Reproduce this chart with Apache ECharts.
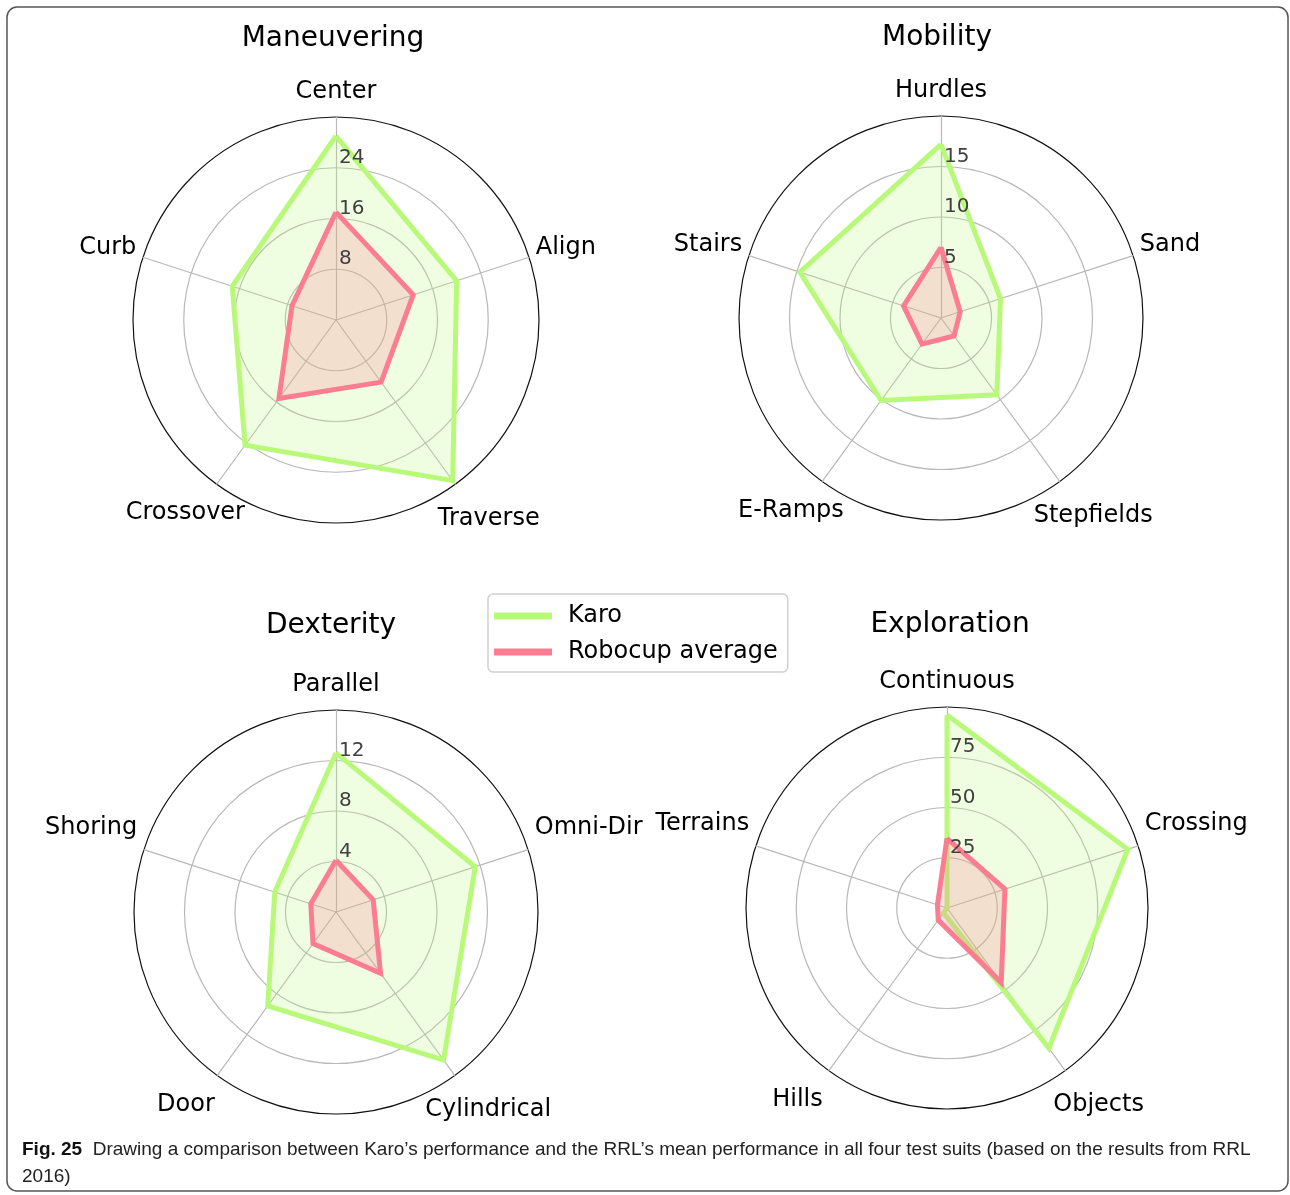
<!DOCTYPE html>
<html>
<head>
<meta charset="utf-8">
<script src="https://cdn.jsdelivr.net/npm/echarts@6/dist/echarts.min.js"></script>
<style>
  html, body { margin: 0; background: #fff; }
  #chart { width: 1290px; height: 1195px; }
</style>
</head>
<body>
<div id="chart"></div>
<script>
// each suite is listed clockwise from the top axis
const titles = ['Maneuvering', 'Mobility', 'Dexterity', 'Exploration'];

const maneuverAxes = ['Center', 'Align', 'Traverse', 'Crossover', 'Curb'];
const maneuverKaro = [29, 20, 31.3, 24.4, 17.2];
const maneuverRobo = [17, 12.8, 12.1, 15.3, 7.3];
const maneuverTicks = [8, 16, 24];

const mobilityAxes = ['Hurdles', 'Sand', 'Stepfields', 'E-Ramps', 'Stairs'];
const mobilityKaro = [17.2, 6.2, 9.4, 10.1, 14.7];
const mobilityRobo = [7, 2, 2.2, 3.2, 3.9];
const mobilityTicks = [5, 10, 15];

const dexterityAxes = ['Parallel', 'Omni-Dir', 'Cylindrical', 'Door', 'Shoring'];
const dexterityKaro = [12.6, 11.6, 14.5, 9.2, 5.1];
const dexterityRobo = [4.1, 3.1, 6, 3.1, 2.1];
const dexterityTicks = [4, 8, 12];

const explorationAxes = ['Continuous', 'Crossing', 'Objects', 'Hills', 'Terrains'];
const explorationKaro = [96, 94.6, 86.2, 3, 0];
const explorationRobo = [34.7, 30.3, 45.9, 7.4, 5];
const explorationTicks = [25, 50, 75];

const axisMax = [32, 20, 16, 100];

const axesList = [maneuverAxes, mobilityAxes, dexterityAxes, explorationAxes];
const karoList = [maneuverKaro, mobilityKaro, dexterityKaro, explorationKaro];
const roboList = [maneuverRobo, mobilityRobo, dexterityRobo, explorationRobo];
const tickList = [maneuverTicks, mobilityTicks, dexterityTicks, explorationTicks];

const caption = 'Drawing a comparison between Karo’s performance and the RRL’s mean performance in all four test suits (based on the results from RRL\n2016)';

// layout of the four polar plots
const centers = [[336, 320], [941, 318], [336, 912], [947, 908]];
const radii = [203, 202, 202, 201];
const titlePos = [[333, 25], [937, 24], [331, 612], [950, 611]];
// line height of the side names, lifts them above the spoke end
const sideLine = [14, 18, 40, 40];

const green = '#b9f97a';
const pink = '#fb7d8f';
const grid = '#b8b8b8';

// echarts lays indicators out counter-clockwise
const toCcw = a => [a[0], a[4], a[3], a[2], a[1]];

// name placement per slot (top, upper-left, lower-left, lower-right, upper-right)
function nameSlot(k, i) {
  if (k === 0) return { gap: 13, style: { align: 'center', verticalAlign: 'bottom' } };
  if (k === 1) return { gap: 7, style: { align: 'right', verticalAlign: 'bottom', lineHeight: sideLine[i] } };
  if (k === 4) return { gap: 7, style: { align: 'left', verticalAlign: 'bottom', lineHeight: sideLine[i] } };
  if (k === 2) return { gap: 21, style: { align: 'center', verticalAlign: 'top', padding: [0, 38, 0, 0] } };
  return { gap: 28, style: { align: 'center', verticalAlign: 'top', padding: [0, 0, 0, 34] } };
}

const baseRadar = i => ({
  center: centers[i],
  radius: radii[i],
  startAngle: 90,
  shape: 'circle',
  splitNumber: 4,
  splitArea: { show: false },
  axisTick: { show: false },
  axisLabel: { show: false }
});

// grid, spokes and category names
const radar = axesList.map((axes, i) => Object.assign(baseRadar(i), {
  z: 0,
  axisName: { color: '#000', fontSize: 24, fontFamily: 'DejaVu Sans' },
  splitLine: { lineStyle: { color: [grid, grid, grid, grid, '#111'], width: 1.2 } },
  axisLine: { lineStyle: { color: grid, width: 1.2 } },
  indicator: toCcw(axes).map((n, k) => {
    const slot = nameSlot(k, i);
    return { name: n, min: 0, max: axisMax[i], nameGap: slot.gap, nameTextStyle: slot.style };
  })
}));

// a second copy on top that only carries the radial tick labels
axesList.forEach((axes, i) => {
  radar.push(Object.assign(baseRadar(i), {
    z: 5,
    axisName: { show: false },
    splitLine: { show: false },
    axisLine: { show: false },
    indicator: toCcw(axes).map((n, k) => ({
      name: n,
      min: 0,
      max: axisMax[i],
      axisLabel: k === 0 ? {
        show: true,
        align: 'left',
        verticalAlign: 'bottom',
        margin: -3,
        color: '#404040',
        fontSize: 20,
        fontFamily: 'DejaVu Sans',
        formatter: v => tickList[i].includes(v) ? String(v) : ''
      } : { show: false }
    }))
  }));
});

const series = axesList.map((axes, i) => ({
  type: 'radar',
  radarIndex: i,
  symbol: 'none',
  silent: true,
  data: [
    {
      name: 'Karo',
      value: toCcw(karoList[i]),
      itemStyle: { color: green },
      lineStyle: { color: green, width: 5, join: 'miter' },
      areaStyle: { color: 'rgba(185,249,122,0.32)' }
    },
    {
      name: 'Robocup average',
      value: toCcw(roboList[i]),
      itemStyle: { color: pink },
      lineStyle: { color: pink, width: 5, join: 'miter' },
      areaStyle: { color: 'rgba(251,125,143,0.34)' }
    }
  ]
}));

const title = titles.map((t, i) => ({
  text: t,
  left: titlePos[i][0],
  top: titlePos[i][1],
  textAlign: 'center',
  padding: 0,
  textStyle: { fontSize: 28, fontWeight: 'normal', color: '#000', fontFamily: 'DejaVu Sans' }
}));
title.push({
  text: '{b|Fig. 25}  ' + caption,
  left: 22,
  top: 1136,
  padding: 0,
  textStyle: {
    fontSize: 19, fontWeight: 'normal', color: '#222', lineHeight: 27,
    fontFamily: 'Liberation Sans',
    rich: { b: { fontSize: 19, fontWeight: 'bold', color: '#111', fontFamily: 'Liberation Sans', lineHeight: 27 } }
  }
});

const chart = echarts.init(document.getElementById('chart'));
chart.setOption({
  backgroundColor: '#fff',
  animation: false,
  title: title,
  legend: {
    orient: 'vertical',
    left: 488,
    top: 594,
    data: ['Karo', 'Robocup average'],
    icon: 'rect',
    itemWidth: 58,
    itemHeight: 7,
    itemGap: 12,
    padding: [10, 10, 8, 6],
    borderColor: '#cfcfcf',
    borderWidth: 1.5,
    borderRadius: 5,
    selectedMode: false,
    itemStyle: { borderWidth: 0 },
    textStyle: { fontSize: 24, color: '#000', fontFamily: 'DejaVu Sans', padding: [0, 0, 0, 11] }
  },
  radar: radar,
  series: series,
  graphic: [{
    type: 'rect',
    silent: true,
    shape: { x: 7, y: 7, width: 1281, height: 1184, r: 10 },
    style: { fill: 'none', stroke: '#555', lineWidth: 1.5 }
  }]
});
</script>
</body>
</html>
